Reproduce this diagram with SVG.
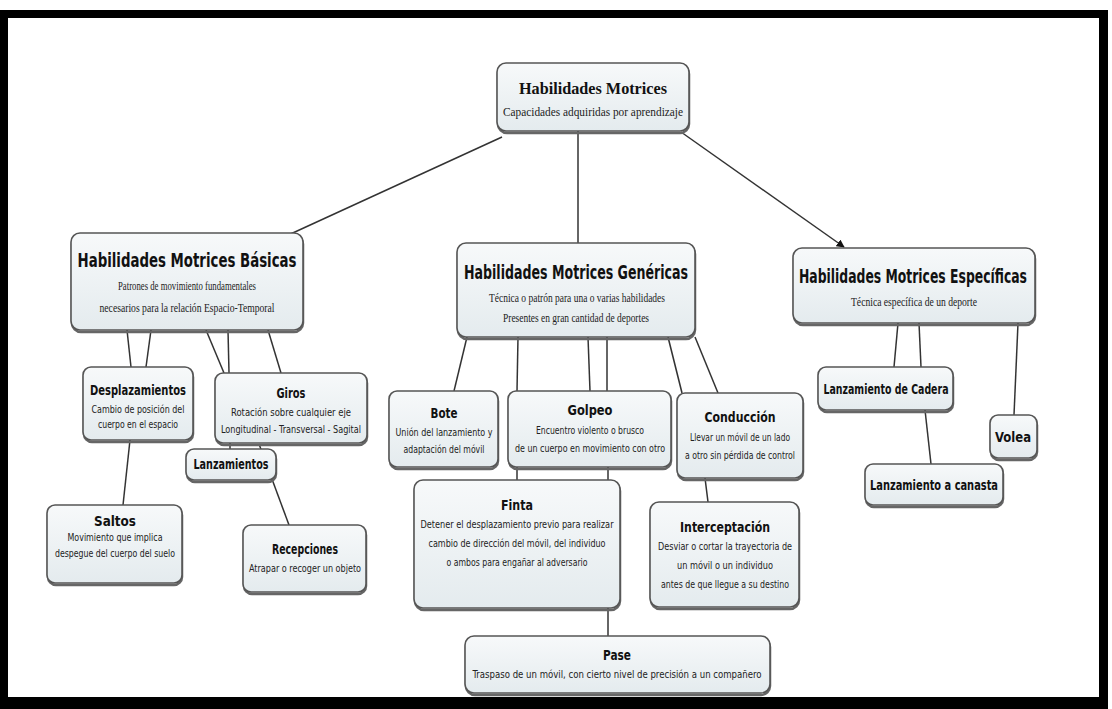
<svg xmlns="http://www.w3.org/2000/svg" width="1112" height="709" viewBox="0 0 1112 709">
<defs>
<linearGradient id="g" x1="0" y1="0" x2="0" y2="1">
<stop offset="0" stop-color="#f7f9fa"/>
<stop offset="1" stop-color="#e4ebee"/>
</linearGradient>
<marker id="arr" viewBox="0 0 10 10" refX="9" refY="5" markerWidth="8" markerHeight="8" orient="auto" markerUnits="userSpaceOnUse">
<path d="M0,0 L10,5 L0,10 z" fill="#111"/>
</marker>
</defs>
<style>
.b{fill:url(#g);stroke:#555;stroke-width:1.6}
.s{fill:none;stroke:#666;stroke-width:2.5}
.t{font-family:"DejaVu Sans Condensed","DejaVu Sans",sans-serif;font-weight:bold;fill:#111;text-anchor:middle}
.tt{font-family:"Liberation Serif",serif;font-weight:bold;fill:#111;text-anchor:middle}
.sr{font-family:"Liberation Serif",serif;fill:#222;text-anchor:middle;font-size:12.5px}
.ss{font-family:"DejaVu Sans Condensed","DejaVu Sans",sans-serif;fill:#222;text-anchor:middle;font-size:11px}
.c{stroke:#333;stroke-width:1.5;fill:none}
</style>
<rect x="0" y="0" width="1112" height="709" fill="#fff"/>
<path d="M0,10 H1108 V709 H0 Z M8,18 V697 H1099 V18 Z" fill="#000" fill-rule="evenodd"/>

<g id="connectors">
<line class="c" x1="502" y1="137" x2="284" y2="237"/>
<line class="c" x1="578" y1="131" x2="578" y2="243"/>
<line class="c" x1="681" y1="132" x2="844" y2="247" marker-end="url(#arr)"/>
<line class="c" x1="127" y1="330" x2="131" y2="367"/>
<line class="c" x1="151" y1="330" x2="146" y2="367"/>
<line class="c" x1="206" y1="330" x2="224" y2="373"/>
<line class="c" x1="228" y1="330" x2="229" y2="373"/>
<line class="c" x1="268" y1="330" x2="281" y2="373"/>
<line class="c" x1="130" y1="440" x2="123" y2="505"/>
<line class="c" x1="230" y1="443" x2="230" y2="449"/>
<line class="c" x1="259" y1="444" x2="289" y2="525"/>
<line class="c" x1="467" y1="337" x2="454" y2="391"/>
<line class="c" x1="518" y1="337" x2="517" y2="391"/>
<line class="c" x1="588" y1="337" x2="590" y2="391"/>
<line class="c" x1="607" y1="337" x2="607" y2="391"/>
<line class="c" x1="668" y1="337" x2="682" y2="393"/>
<line class="c" x1="695" y1="337" x2="718" y2="393"/>
<line class="c" x1="517" y1="467" x2="517" y2="480"/>
<line class="c" x1="608" y1="467" x2="608" y2="480"/>
<line class="c" x1="705" y1="478" x2="708" y2="502"/>
<line class="c" x1="608" y1="608" x2="608" y2="636"/>
<line class="c" x1="898" y1="323" x2="894" y2="367"/>
<line class="c" x1="919" y1="323" x2="921" y2="367"/>
<line class="c" x1="1018" y1="323" x2="1014" y2="415"/>
<line class="c" x1="925" y1="410" x2="931" y2="464"/>
</g>

<g id="n-root">
<rect class="s" x="498" y="65" width="191" height="68" rx="9"/>
<rect class="b" x="497" y="63" width="192" height="68" rx="9"/>
<text class="tt" x="593" y="94" font-size="17" textLength="148" lengthAdjust="spacingAndGlyphs">Habilidades Motrices</text>
<text class="sr" x="593" y="116" textLength="180" lengthAdjust="spacingAndGlyphs">Capacidades adquiridas por aprendizaje</text>
</g>

<g id="n-basicas">
<rect class="s" x="72" y="235" width="231" height="97" rx="9"/>
<rect class="b" x="71" y="233" width="232" height="97" rx="9"/>
<text class="t" x="187" y="267" font-size="19" textLength="219" lengthAdjust="spacingAndGlyphs">Habilidades Motrices Básicas</text>
<text class="sr" x="187" y="290" textLength="138" lengthAdjust="spacingAndGlyphs">Patrones de movimiento fundamentales</text>
<text class="sr" x="187" y="312" textLength="175" lengthAdjust="spacingAndGlyphs">necesarios para la relación Espacio-Temporal</text>
</g>

<g id="n-genericas">
<rect class="s" x="458" y="245" width="237" height="94" rx="9"/>
<rect class="b" x="457" y="243" width="238" height="94" rx="9"/>
<text class="t" x="576" y="279" font-size="19" textLength="224" lengthAdjust="spacingAndGlyphs">Habilidades Motrices Genéricas</text>
<text class="sr" x="577" y="302" textLength="176" lengthAdjust="spacingAndGlyphs">Técnica o patrón para una o varias habilidades</text>
<text class="sr" x="576" y="322" textLength="146" lengthAdjust="spacingAndGlyphs">Presentes en gran cantidad de deportes</text>
</g>

<g id="n-especificas">
<rect class="s" x="794" y="250" width="241" height="75" rx="9"/>
<rect class="b" x="793" y="248" width="242" height="75" rx="9"/>
<text class="t" x="913" y="283" font-size="19" textLength="228" lengthAdjust="spacingAndGlyphs">Habilidades Motrices Específicas</text>
<text class="sr" x="914" y="306" textLength="126" lengthAdjust="spacingAndGlyphs">Técnica específica de un deporte</text>
</g>

<g id="n-desplazamientos">
<rect class="s" x="84" y="369" width="109" height="73" rx="8"/>
<rect class="b" x="83" y="367" width="110" height="73" rx="8"/>
<text class="t" x="138" y="395" font-size="13.5" textLength="96" lengthAdjust="spacingAndGlyphs">Desplazamientos</text>
<text class="ss" x="138" y="413" textLength="93" lengthAdjust="spacingAndGlyphs">Cambio de posición del</text>
<text class="ss" x="138" y="428" textLength="80" lengthAdjust="spacingAndGlyphs">cuerpo en el espacio</text>
</g>

<g id="n-giros">
<rect class="s" x="216" y="375" width="151" height="70" rx="8"/>
<rect class="b" x="215" y="373" width="152" height="70" rx="8"/>
<text class="t" x="291" y="398" font-size="13.5" textLength="29" lengthAdjust="spacingAndGlyphs">Giros</text>
<text class="ss" x="291" y="416" textLength="120" lengthAdjust="spacingAndGlyphs">Rotación sobre cualquier eje</text>
<text class="ss" x="291" y="433" textLength="140" lengthAdjust="spacingAndGlyphs">Longitudinal - Transversal - Sagital</text>
</g>

<g id="n-lanzamientos">
<rect class="s" x="187" y="451" width="89" height="31" rx="8"/>
<rect class="b" x="186" y="449" width="90" height="31" rx="8"/>
<text class="t" x="231" y="469" font-size="13.5" textLength="75" lengthAdjust="spacingAndGlyphs">Lanzamientos</text>
</g>

<g id="n-saltos">
<rect class="s" x="48" y="507" width="134" height="78" rx="8"/>
<rect class="b" x="47" y="505" width="135" height="78" rx="8"/>
<text class="t" x="115" y="526" font-size="13.5" textLength="42" lengthAdjust="spacingAndGlyphs">Saltos</text>
<text class="ss" x="115" y="541" textLength="95" lengthAdjust="spacingAndGlyphs">Movimiento que implica</text>
<text class="ss" x="115" y="557" textLength="120" lengthAdjust="spacingAndGlyphs">despegue del cuerpo del suelo</text>
</g>

<g id="n-recepciones">
<rect class="s" x="244" y="527" width="122" height="67" rx="8"/>
<rect class="b" x="243" y="525" width="123" height="67" rx="8"/>
<text class="t" x="305" y="554" font-size="13.5" textLength="66" lengthAdjust="spacingAndGlyphs">Recepciones</text>
<text class="ss" x="305" y="572" textLength="112" lengthAdjust="spacingAndGlyphs">Atrapar o recoger un objeto</text>
</g>

<g id="n-bote">
<rect class="s" x="390" y="393" width="108" height="76" rx="8"/>
<rect class="b" x="389" y="391" width="109" height="76" rx="8"/>
<text class="t" x="444" y="418" font-size="13.5" textLength="27" lengthAdjust="spacingAndGlyphs">Bote</text>
<text class="ss" x="444" y="436" textLength="97" lengthAdjust="spacingAndGlyphs">Unión del lanzamiento y</text>
<text class="ss" x="444" y="453" textLength="81" lengthAdjust="spacingAndGlyphs">adaptación del móvil</text>
</g>

<g id="n-golpeo">
<rect class="s" x="509" y="393" width="162" height="76" rx="8"/>
<rect class="b" x="508" y="391" width="163" height="76" rx="8"/>
<text class="t" x="590" y="415" font-size="13.5" textLength="45" lengthAdjust="spacingAndGlyphs">Golpeo</text>
<text class="ss" x="590" y="434" textLength="108" lengthAdjust="spacingAndGlyphs">Encuentro violento o brusco</text>
<text class="ss" x="590" y="452" textLength="150" lengthAdjust="spacingAndGlyphs">de un cuerpo en movimiento con otro</text>
</g>

<g id="n-conduccion">
<rect class="s" x="678" y="395" width="125" height="85" rx="8"/>
<rect class="b" x="677" y="393" width="126" height="85" rx="8"/>
<text class="t" x="740" y="422" font-size="13.5" textLength="71" lengthAdjust="spacingAndGlyphs">Conducción</text>
<text class="ss" x="740" y="441" textLength="100" lengthAdjust="spacingAndGlyphs">Llevar un móvil de un lado</text>
<text class="ss" x="740" y="459" textLength="110" lengthAdjust="spacingAndGlyphs">a otro sin pérdida de control</text>
</g>

<g id="n-finta">
<rect class="s" x="415" y="482" width="205" height="128" rx="9"/>
<rect class="b" x="414" y="480" width="206" height="128" rx="9"/>
<text class="t" x="517" y="510" font-size="13.5" textLength="32" lengthAdjust="spacingAndGlyphs">Finta</text>
<text class="ss" x="517" y="528" textLength="193" lengthAdjust="spacingAndGlyphs">Detener el desplazamiento previo para realizar</text>
<text class="ss" x="517" y="547" textLength="177" lengthAdjust="spacingAndGlyphs">cambio de dirección del móvil, del individuo</text>
<text class="ss" x="517" y="566" textLength="141" lengthAdjust="spacingAndGlyphs">o ambos para engañar al adversario</text>
</g>

<g id="n-interceptacion">
<rect class="s" x="651" y="504" width="148" height="105" rx="9"/>
<rect class="b" x="650" y="502" width="149" height="105" rx="9"/>
<text class="t" x="725" y="532" font-size="13.5" textLength="90" lengthAdjust="spacingAndGlyphs">Interceptación</text>
<text class="ss" x="725" y="550" textLength="134" lengthAdjust="spacingAndGlyphs">Desviar o cortar la trayectoria de</text>
<text class="ss" x="725" y="569" textLength="96" lengthAdjust="spacingAndGlyphs">un móvil o un individuo</text>
<text class="ss" x="725" y="588" textLength="128" lengthAdjust="spacingAndGlyphs">antes de que llegue a su destino</text>
</g>

<g id="n-pase">
<rect class="s" x="466" y="638" width="304" height="57" rx="9"/>
<rect class="b" x="465" y="636" width="305" height="57" rx="9"/>
<text class="t" x="617" y="660" font-size="13.5" textLength="28" lengthAdjust="spacingAndGlyphs">Pase</text>
<text class="ss" x="617" y="678" textLength="289" lengthAdjust="spacingAndGlyphs">Traspaso de un móvil, con cierto nivel de precisión a un compañero</text>
</g>

<g id="n-cadera">
<rect class="s" x="819" y="369" width="134" height="43" rx="8"/>
<rect class="b" x="818" y="367" width="135" height="43" rx="8"/>
<text class="t" x="886" y="394" font-size="13.5" textLength="125" lengthAdjust="spacingAndGlyphs">Lanzamiento de Cadera</text>
</g>

<g id="n-canasta">
<rect class="s" x="866" y="466" width="137" height="41" rx="8"/>
<rect class="b" x="865" y="464" width="138" height="41" rx="8"/>
<text class="t" x="934" y="490" font-size="13.5" textLength="128" lengthAdjust="spacingAndGlyphs">Lanzamiento a canasta</text>
</g>

<g id="n-volea">
<rect class="s" x="991" y="417" width="46" height="43" rx="8"/>
<rect class="b" x="990" y="415" width="47" height="43" rx="8"/>
<text class="t" x="1013" y="442" font-size="13.5" textLength="36" lengthAdjust="spacingAndGlyphs">Volea</text>
</g>
</svg>
